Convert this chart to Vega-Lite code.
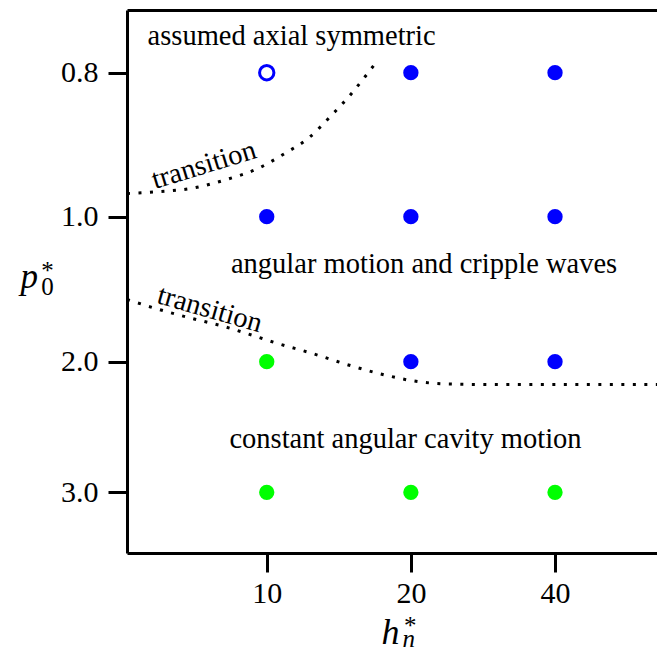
{
  "$schema": "https://vega.github.io/schema/vega-lite/v6.json",
  "width": 530,
  "height": 543,
  "autosize": {"type": "none"},
  "padding": {"left": 127, "top": 10, "right": 0, "bottom": 100},
  "background": "white",
  "config": {"view": {"stroke": null}},
  "resolve": {"axis": {"x": "independent"}},
  "datasets": {
    "points": [
      {"h": 10, "p0": 0.8, "regime": "assumed axial symmetric"},
      {"h": 20, "p0": 0.8, "regime": "angular motion and cripple waves"},
      {"h": 40, "p0": 0.8, "regime": "angular motion and cripple waves"},
      {"h": 10, "p0": 1.0, "regime": "angular motion and cripple waves"},
      {"h": 20, "p0": 1.0, "regime": "angular motion and cripple waves"},
      {"h": 40, "p0": 1.0, "regime": "angular motion and cripple waves"},
      {"h": 10, "p0": 2.0, "regime": "constant angular cavity motion"},
      {"h": 20, "p0": 2.0, "regime": "angular motion and cripple waves"},
      {"h": 40, "p0": 2.0, "regime": "angular motion and cripple waves"},
      {"h": 10, "p0": 3.0, "regime": "constant angular cavity motion"},
      {"h": 20, "p0": 3.0, "regime": "constant angular cavity motion"},
      {"h": 40, "p0": 3.0, "regime": "constant angular cavity motion"}
    ],
    "transition": [
      {"curve": "upper", "h": 5.107, "p0": 0.9678},
      {"curve": "upper", "h": 5.94, "p0": 0.9653},
      {"curve": "upper", "h": 6.97, "p0": 0.9606},
      {"curve": "upper", "h": 8.18, "p0": 0.949},
      {"curve": "upper", "h": 9.6, "p0": 0.9328},
      {"curve": "upper", "h": 10.92, "p0": 0.9119},
      {"curve": "upper", "h": 12.21, "p0": 0.8911},
      {"curve": "upper", "h": 13.67, "p0": 0.8588},
      {"curve": "upper", "h": 15.05, "p0": 0.8286},
      {"curve": "upper", "h": 16.04, "p0": 0.8056},
      {"curve": "upper", "h": 16.97, "p0": 0.7825},
      {"curve": "lower", "h": 5.107, "p0": 1.571},
      {"curve": "lower", "h": 5.85, "p0": 1.632},
      {"curve": "lower", "h": 6.97, "p0": 1.701},
      {"curve": "lower", "h": 8.18, "p0": 1.759},
      {"curve": "lower", "h": 9.3, "p0": 1.816},
      {"curve": "lower", "h": 10.41, "p0": 1.869},
      {"curve": "lower", "h": 12.42, "p0": 1.942},
      {"curve": "lower", "h": 14.81, "p0": 2.025},
      {"curve": "lower", "h": 17.66, "p0": 2.102},
      {"curve": "lower", "h": 20.08, "p0": 2.145},
      {"curve": "lower", "h": 23.95, "p0": 2.171},
      {"curve": "lower", "h": 30.7, "p0": 2.175},
      {"curve": "lower", "h": 65.32, "p0": 2.175}
    ],
    "regions": [
      {"h": 11.27, "p0": 0.7558, "label": "assumed axial symmetric"},
      {"h": 21.31, "p0": 1.388, "label": "angular motion and cripple waves"},
      {"h": 19.49, "p0": 2.663, "label": "constant angular cavity motion"}
    ],
    "upperLabel": [{"h": 7.48, "p0": 0.9397, "label": "transition"}],
    "lowerLabel": [{"h": 7.52, "p0": 1.695, "label": "transition"}],
    "scripts": [
      {"h": 3.38, "p0": 1.4297, "label": "*"},
      {"h": 3.38, "p0": 1.54, "label": "0"},
      {"h": 19.35, "p0": 4.1647, "label": "*"}
    ],
    "italicScripts": [
      {"h": 19.2, "p0": 4.2718, "label": "n"}
    ]
  },
  "layer": [
    {
      "data": {"name": "points"},
      "transform": [{"filter": "datum.regime !== 'assumed axial symmetric'"}],
      "mark": {"type": "circle", "size": 235, "opacity": 1},
      "encoding": {
        "x": {
          "field": "h", "type": "quantitative",
          "scale": {"type": "log", "domain": [5.107, 65.32], "nice": false},
          "axis": {
            "orient": "bottom",
            "values": [10, 20, 40], "format": "d", "grid": false,
            "labelFont": "Liberation Serif", "labelFontSize": 30, "labelColor": "black", "labelPadding": 6, "labelOverlap": false, "labelFlush": false,
            "tickSize": 19, "tickWidth": 3, "tickColor": "black",
            "domainWidth": 3, "domainColor": "black",
            "title": "h", "titleFont": "Liberation Serif", "titleFontStyle": "italic", "titleFontWeight": "normal", "titleFontSize": 36, "titleColor": "black",
            "titleAlign": "left", "titleBaseline": "alphabetic", "titleX": 254, "titleY": 90, "titleAngle": 0
          }
        },
        "y": {
          "field": "p0", "type": "quantitative",
          "scale": {"domain": [0.7, 0.8, 1, 2, 3, 3.5], "range": [0, 62.7, 206.7, 351.7, 482.3, 543], "nice": false, "zero": false},
          "axis": {
            "values": [0.8, 1, 2, 3], "format": ".1f", "grid": false,
            "labelFont": "Liberation Serif", "labelFontSize": 30, "labelColor": "black", "labelPadding": 10, "labelOverlap": false, "labelFlush": false,
            "tickSize": 19, "tickWidth": 3, "tickColor": "black",
            "domainWidth": 3, "domainColor": "black",
            "title": "p", "titleFont": "Liberation Serif", "titleFontStyle": "italic", "titleFontWeight": "normal", "titleFontSize": 35, "titleColor": "black",
            "titleAlign": "left", "titleBaseline": "alphabetic", "titleX": -107, "titleY": 277.5, "titleAngle": 0
          }
        },
        "color": {
          "field": "regime", "type": "nominal", "legend": null,
          "scale": {"domain": ["assumed axial symmetric", "angular motion and cripple waves", "constant angular cavity motion"], "range": ["#0000ff", "#0000ff", "#00ff00"]}
        }
      }
    },
    {
      "data": {"name": "points"},
      "transform": [{"filter": "datum.regime === 'assumed axial symmetric'"}],
      "mark": {"type": "point", "shape": "circle", "filled": false, "size": 206, "strokeWidth": 3, "opacity": 1},
      "encoding": {
        "x": {
          "field": "h", "type": "quantitative",
          "axis": {"orient": "top", "labels": false, "ticks": false, "grid": false, "title": null, "domain": true, "domainWidth": 3, "domainColor": "black"}
        },
        "y": {"field": "p0", "type": "quantitative"},
        "color": {"field": "regime", "type": "nominal", "legend": null}
      }
    },
    {
      "data": {"name": "transition"},
      "mark": {"type": "line", "color": "black", "strokeWidth": 3, "strokeDash": [3, 8.5], "strokeCap": "butt", "interpolate": "monotone"},
      "encoding": {
        "x": {"field": "h", "type": "quantitative", "axis": null},
        "y": {"field": "p0", "type": "quantitative"},
        "detail": {"field": "curve"}
      }
    },
    {
      "data": {"name": "regions"},
      "mark": {"type": "text", "font": "Liberation Serif", "fontSize": 28.5, "align": "center", "baseline": "alphabetic", "color": "black"},
      "encoding": {
        "x": {"field": "h", "type": "quantitative", "axis": null},
        "y": {"field": "p0", "type": "quantitative"},
        "text": {"field": "label"}
      }
    },
    {
      "data": {"name": "upperLabel"},
      "mark": {"type": "text", "font": "Liberation Serif", "fontSize": 28.5, "align": "center", "baseline": "alphabetic", "color": "black", "angle": 343},
      "encoding": {
        "x": {"field": "h", "type": "quantitative", "axis": null},
        "y": {"field": "p0", "type": "quantitative"},
        "text": {"field": "label"}
      }
    },
    {
      "data": {"name": "lowerLabel"},
      "mark": {"type": "text", "font": "Liberation Serif", "fontSize": 28.5, "align": "center", "baseline": "alphabetic", "color": "black", "angle": 16},
      "encoding": {
        "x": {"field": "h", "type": "quantitative", "axis": null},
        "y": {"field": "p0", "type": "quantitative"},
        "text": {"field": "label"}
      }
    },
    {
      "data": {"name": "scripts"},
      "mark": {"type": "text", "font": "Liberation Serif", "fontSize": 25, "align": "left", "baseline": "alphabetic", "color": "black"},
      "encoding": {
        "x": {"field": "h", "type": "quantitative", "axis": null},
        "y": {"field": "p0", "type": "quantitative"},
        "text": {"field": "label"}
      }
    },
    {
      "data": {"name": "italicScripts"},
      "mark": {"type": "text", "font": "Liberation Serif", "fontSize": 25, "fontStyle": "italic", "align": "left", "baseline": "alphabetic", "color": "black"},
      "encoding": {
        "x": {"field": "h", "type": "quantitative", "axis": null},
        "y": {"field": "p0", "type": "quantitative"},
        "text": {"field": "label"}
      }
    }
  ]
}
